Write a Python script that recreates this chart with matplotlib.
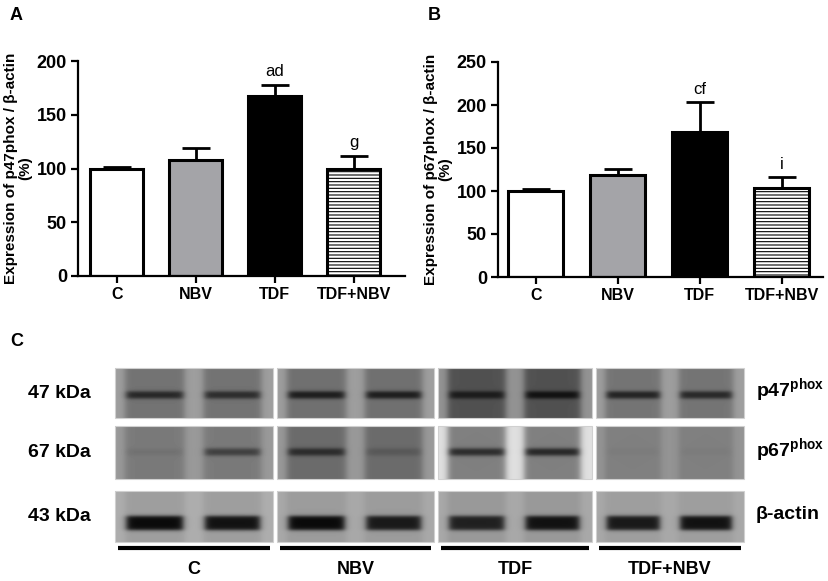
import numpy as np
import matplotlib
matplotlib.use("Agg")
import matplotlib.pyplot as plt

plt.rcParams["font.family"] = ["Liberation Sans", "DejaVu Sans"]
plt.rcParams["mathtext.fontset"] = "custom"
plt.rcParams["mathtext.rm"] = "Liberation Sans"
plt.rcParams["mathtext.bf"] = "Liberation Sans:bold"
plt.rcParams["hatch.linewidth"] = 0.8

# bar chart data
groups = ["C", "NBV", "TDF", "TDF+NBV"]
p47_mean = [100, 108, 167, 100]
p47_sem = [1.5, 11, 11, 12]
p47_marks = ["", "", "ad", "g"]
p67_mean = [100, 119, 169, 104]
p67_sem = [2, 7, 34, 12]
p67_marks = ["", "", "cf", "i"]

bar_faces = ["white", "#a4a4a8", "black", "white"]
bar_hatch = [None, None, None, "-----"]

# western blot (band darkness per lane, 2 lanes per group)
blot_mw = ["47 kDa", "67 kDa", "43 kDa"]
blot_names = ["p47$^{\\mathbf{phox}}$", "p67$^{\\mathbf{phox}}$", "β-actin"]
band_p47 = [0.75, 0.7, 0.85, 0.85, 0.8, 0.95, 0.8, 0.75]
band_p67 = [0.08, 0.55, 0.7, 0.2, 0.75, 0.8, 0.03, 0.03]
band_actin = [1.0, 0.95, 1.0, 0.9, 0.85, 0.95, 0.9, 0.95]
# gray level inside lanes / between lanes, per group
lane_p47 = [0.45, 0.44, 0.32, 0.46]
gap_p47 = [0.62, 0.62, 0.58, 0.62]
lane_p67 = [0.48, 0.42, 0.50, 0.50]
gap_p67 = [0.60, 0.60, 0.88, 0.58]
lane_actin = [0.62, 0.61, 0.60, 0.62]
gap_actin = [0.68, 0.66, 0.66, 0.66]

W, H = 829, 581


def px_box(l, t, r, b):
    return [l / W, 1 - b / H, (r - l) / W, (b - t) / H]


def bar_panel(ax, means, sems, marks, ymax, step, ylabel, xlim):
    x = np.arange(len(groups))
    ax.errorbar(x, means, yerr=[[0] * len(sems), sems], fmt="none",
                ecolor="black", elinewidth=2, capsize=10, capthick=2, zorder=1)
    for i in range(len(groups)):
        ax.bar(x[i], means[i], width=0.67, color=bar_faces[i], edgecolor="black",
               linewidth=2.2, hatch=bar_hatch[i], zorder=2)
    for i in range(len(groups)):
        if marks[i]:
            ax.annotate(marks[i], (x[i], means[i] + sems[i]), xytext=(0, 4),
                        textcoords="offset points", ha="center", va="bottom", fontsize=12)
    ax.set_ylim(0, ymax)
    ax.set_xlim(*xlim)
    ax.set_yticks(np.arange(0, ymax + 1, step))
    ax.set_xticks(x)
    ax.set_xticklabels(groups, fontweight="bold", fontsize=11.5)
    for lab in ax.get_yticklabels():
        lab.set_fontweight("bold")
        lab.set_fontsize(13)
    ax.spines["top"].set_visible(False)
    ax.spines["right"].set_visible(False)
    ax.spines["left"].set_linewidth(1.6)
    ax.spines["bottom"].set_linewidth(1.6)
    ax.tick_params(width=1.6, length=5, pad=3)
    ax.set_ylabel(ylabel, fontweight="bold", fontsize=11, linespacing=1.0, labelpad=3)


fig = plt.figure(figsize=(W / 100, H / 100), dpi=100)

axA = fig.add_axes(px_box(78, 61, 405, 276))
bar_panel(axA, p47_mean, p47_sem, p47_marks, 200, 50,
          "Expression of p47phox / β-actin\n(%)", (-0.49, 3.65))
axB = fig.add_axes(px_box(498, 62, 823, 277))
bar_panel(axB, p67_mean, p67_sem, p67_marks, 250, 50,
          "Expression of p67phox / β-actin\n(%)", (-0.46, 3.5))

fig.text(10 / W, 1 - 15 / H, "A", fontweight="bold", fontsize=13, va="center")
fig.text(428 / W, 1 - 15 / H, "B", fontweight="bold", fontsize=13, va="center")
fig.text(10 / W, 1 - 342 / H, "C", fontweight="bold", fontsize=13, va="center")

# blot panel, pixel coordinates
axC = fig.add_axes([0, 0, 1, 251 / H])
axC.set_xlim(0, W)
axC.set_ylim(H, 330)
axC.axis("off")

box_x = [(115, 273), (277, 434), (438, 592), (596, 744)]
row_y = [(368, 418), (426, 479), (491, 542)]
row_bands = [band_p47, band_p67, band_actin]
row_lane = [lane_p47, lane_p67, lane_actin]
row_gap = [gap_p47, gap_p67, gap_actin]
band_center = [0.54, 0.49, 0.63]
band_half = [0.07, 0.065, 0.14]
lanes = [(0.06, 0.44), (0.56, 0.93)]


def soft_step(v, a, b, soft):
    return 1 / (1 + np.exp(-(v - a) / soft)) / (1 + np.exp((v - b) / soft))


for r in range(3):
    t, b = row_y[r]
    for g in range(4):
        l, rr = box_x[g]
        hh, ww = b - t, rr - l
        yy, xx = np.mgrid[0:1:hh * 1j, 0:1:ww * 1j]
        lane_m = soft_step(xx, *lanes[0], 0.012) + soft_step(xx, *lanes[1], 0.012)
        img = row_gap[r][g] - (row_gap[r][g] - row_lane[r][g]) * lane_m
        band_y = soft_step(yy, band_center[r] - band_half[r], band_center[r] + band_half[r], 0.02)
        for k, (a, c) in enumerate(lanes):
            d = row_bands[r][2 * g + k]
            band_x = soft_step(xx, a + 0.01, c - 0.01, 0.012)
            img = img - d * (row_lane[r][g] - 0.04) * band_y * band_x
        img = np.clip(img, 0, 1)
        axC.imshow(img, cmap="gray", vmin=0, vmax=1, extent=(l, rr, b, t),
                   aspect="auto", interpolation="bilinear")
        axC.add_patch(plt.Rectangle((l, t), ww, hh, fill=False, edgecolor="#d0d0d0", linewidth=0.8))
    axC.text(59, (t + b) / 2, blot_mw[r], fontweight="bold", fontsize=14, ha="center", va="center")
    axC.text(756, (t + b) / 2 - 2, blot_names[r], fontweight="bold", fontsize=14, ha="left", va="center")

for g in range(4):
    l, rr = box_x[g]
    axC.plot([l + 3, rr - 3], [548, 548], color="black", linewidth=3, solid_capstyle="butt")
    axC.text((l + rr) / 2, 569, groups[g], fontweight="bold", fontsize=13, ha="center", va="center")

fig.savefig("out.png", dpi=100)
